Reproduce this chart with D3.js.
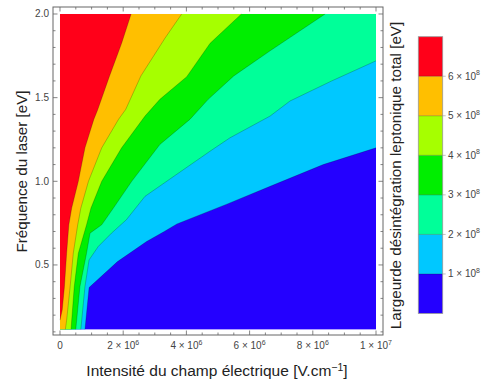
<!DOCTYPE html>
<html><head><meta charset="utf-8">
<script src="https://cdn.jsdelivr.net/npm/d3@7"></script>
<style>body{margin:0;background:#fff}svg{display:block;font-family:"Liberation Sans",Arial,sans-serif}</style>
</head><body><svg id="c" width="486" height="383"></svg>
<script>
// ---- data (x in units of 1e6 V/cm, y in eV) ----
const xRange = [0, 10];
const fRange = [0.115, 2.0];
const levels = [1e8, 2e8, 3e8, 4e8, 5e8, 6e8];
const levelLabels = ["1", "2", "3", "4", "5", "6"];
const colors = ["#2400ff", "#00c8ff", "#00ff99", "#00ee00", "#a6ff00", "#ffbf00", "#ff0019"];
const barRange = [0, 7e8];
// contour boundaries [E (1e6 V/cm), frequency (eV)]
const c1 = [[10,1.2],[8.33,1.1],[6.65,0.97],[5.3,0.865],[3.7,0.745],[3.3,0.70],[2.74,0.64],[1.82,0.52],[0.92,0.365],[0.79,0.115]];
const c2 = [[10,1.72],[8.6,1.6],[7.28,1.48],[6.65,1.39],[5.38,1.26],[4.75,1.18],[3.3,0.99],[2.69,0.91],[2.1,0.77],[1.63,0.69],[1.21,0.61],[0.92,0.53],[0.79,0.37],[0.66,0.115]];
const c3 = [[8.39,2.0],[6.65,1.78],[5.5,1.63],[4.69,1.49],[4.11,1.37],[3.16,1.22],[2.27,1.0],[1.69,0.84],[1.32,0.74],[0.95,0.69],[0.84,0.57],[0.63,0.37],[0.50,0.115]];
const c4 = [[5.74,2.0],[4.75,1.825],[4.01,1.625],[3.16,1.49],[2.69,1.39],[1.95,1.2],[1.32,1.0],[0.98,0.84],[0.84,0.74],[0.58,0.57],[0.45,0.37],[0.37,0.17],[0.35,0.115]];
const c5 = [[3.85,2.0],[3.32,1.855],[2.56,1.63],[2.08,1.43],[1.85,1.37],[1.32,1.2],[0.90,1.0],[0.66,0.84],[0.56,0.74],[0.42,0.57],[0.32,0.37],[0.21,0.17],[0.17,0.115]];
const c6 = [[2.25,2.0],[1.95,1.825],[1.56,1.625],[1.19,1.426],[1.07,1.37],[0.79,1.2],[0.58,1.0],[0.37,0.84],[0.28,0.74],[0.21,0.57],[0.14,0.37],[0.07,0.23],[0.0,0.17]];
const contours = [c1, c2, c3, c4, c5, c6];
const xMajor = [0, 2, 4, 6, 8, 10];
const xMajorLabels = [null, ["2","6"], ["4","6"], ["6","6"], ["8","6"], ["1","7"]];
const yMajor = [0.5, 1.0, 1.5, 2.0];

// ---- layout ----
const svg = d3.select("#c");
const x = d3.scaleLinear().domain([-0.2215, 10.2215]).range([53, 383]);
const y = d3.scaleLinear().domain([0.0813, 2.0418]).range([335, 7]);
const cb = d3.scaleLinear().domain(barRange).range([313.5, 36.7]);

const g = svg.append("g");
g.append("rect").attr("x", x(xRange[0])).attr("y", y(fRange[1]))
  .attr("width", x(xRange[1]) - x(xRange[0])).attr("height", y(fRange[0]) - y(fRange[1]))
  .attr("fill", colors[0]);
const line = d3.line().x(d => x(d[0])).y(d => y(d[1]));
contours.forEach((c, i) => {
  const poly = c.concat([[xRange[0], fRange[0]], [xRange[0], fRange[1]], [xRange[1], fRange[1]]]);
  g.append("path").attr("d", line(poly) + "Z").attr("fill", colors[i + 1]);
});
contours.forEach(c => {
  g.append("path").attr("d", line(c)).attr("fill", "none")
    .attr("stroke", "rgba(0,0,0,0.3)").attr("stroke-width", 0.7);
});

// ---- frame ----
const fc = "#666";
svg.append("rect").attr("x", 53).attr("y", 7).attr("width", 330).attr("height", 328)
  .attr("fill", "none").attr("stroke", fc).attr("stroke-width", 1);
const ax = svg.append("g").attr("stroke", fc).attr("stroke-width", 0.8);
d3.range(0, 10.01, 0.5).forEach(v => {
  const L = (v % 2 === 0) ? 4.5 : 2.5;
  ax.append("line").attr("x1", x(v)).attr("x2", x(v)).attr("y1", 335).attr("y2", 335 - L);
  ax.append("line").attr("x1", x(v)).attr("x2", x(v)).attr("y1", 7).attr("y2", 7 + L);
});
d3.range(1, 21).map(v => v / 10).forEach(v => {
  const L = (Math.abs(v * 2 - Math.round(v * 2)) < 1e-9) ? 4.5 : 2.5;
  ax.append("line").attr("y1", y(v)).attr("y2", y(v)).attr("x1", 53).attr("x2", 53 + L);
  ax.append("line").attr("y1", y(v)).attr("y2", y(v)).attr("x1", 383).attr("x2", 383 - L);
});
yMajor.forEach(v => {
  svg.append("text").attr("x", 49).attr("y", y(v) + 3.5).attr("text-anchor", "end")
    .attr("font-size", 10).attr("fill", "#444").text(d3.format(".1f")(v));
});
xMajor.forEach((v, i) => {
  const t = svg.append("text").attr("x", x(v)).attr("y", 349).attr("text-anchor", "middle")
    .attr("font-size", 10).attr("fill", "#444");
  if (xMajorLabels[i] === null) { t.text("0"); return; }
  t.append("tspan").text(xMajorLabels[i][0] + " \u00d7 10");
  t.append("tspan").attr("dy", -4.5).attr("font-size", 7).text(xMajorLabels[i][1]);
});
const xt = svg.append("text").attr("x", 217).attr("y", 376).attr("text-anchor", "middle")
  .attr("font-size", 15.5).attr("fill", "#222");
xt.append("tspan").text("Intensité du champ électrique [V.cm");
xt.append("tspan").attr("dy", -5.5).attr("font-size", 10.5).text("\u22121");
xt.append("tspan").attr("dy", 5.5).text("]");
svg.append("text").attr("transform", "translate(26.5,171.5) rotate(-90)").attr("text-anchor", "middle")
  .attr("font-size", 15.2).attr("fill", "#222").text("Fréquence du laser [eV]");
svg.append("text").attr("transform", "translate(400.5,175.5) rotate(-90)").attr("text-anchor", "middle")
  .attr("font-size", 15.2).attr("fill", "#222").text("Largeurde désintégration leptonique total [eV]");

// ---- colour bar ----
const bx0 = 418.3, bx1 = 442.7;
colors.forEach((col, i) => {
  const lo = i === 0 ? barRange[0] : levels[i - 1];
  const hi = i === colors.length - 1 ? barRange[1] : levels[i];
  svg.append("rect").attr("x", bx0).attr("y", cb(hi)).attr("width", bx1 - bx0)
    .attr("height", cb(lo) - cb(hi)).attr("fill", col);
});
levels.forEach((v, i) => {
  svg.append("line").attr("x1", bx0).attr("x2", bx1 + 3).attr("y1", cb(v)).attr("y2", cb(v))
    .attr("stroke", "rgba(0,0,0,0.35)").attr("stroke-width", 0.7);
  const t = svg.append("text").attr("x", 448).attr("y", cb(v) + 3.5).attr("font-size", 10).attr("fill", "#444");
  t.append("tspan").text(levelLabels[i] + " \u00d7 10");
  t.append("tspan").attr("dy", -4.5).attr("font-size", 7).text("8");
});
svg.append("rect").attr("x", bx0).attr("y", cb(barRange[1])).attr("width", bx1 - bx0)
  .attr("height", cb(barRange[0]) - cb(barRange[1])).attr("fill", "none")
  .attr("stroke", "#999").attr("stroke-width", 0.8);
</script></body></html>
